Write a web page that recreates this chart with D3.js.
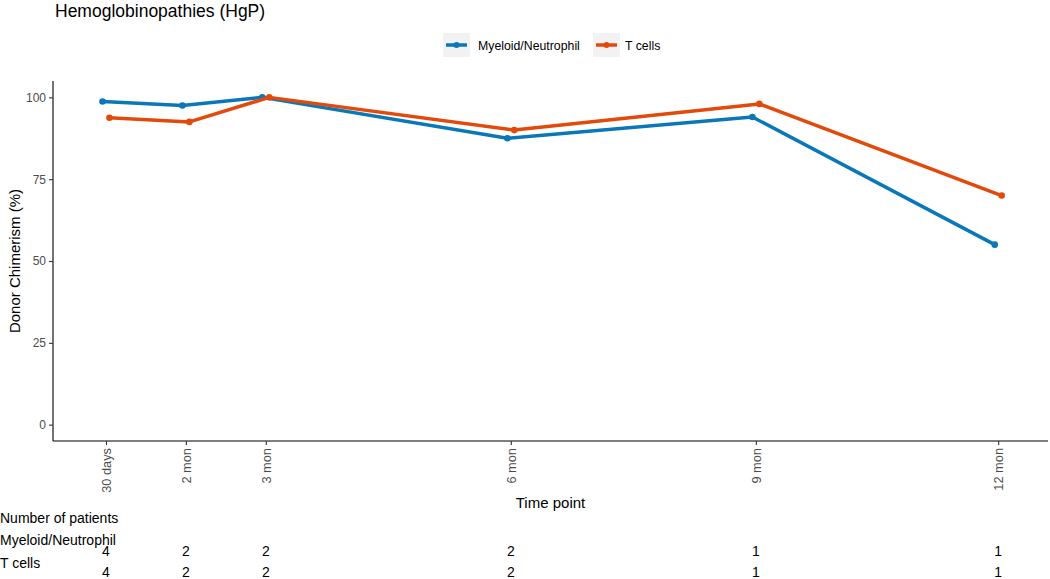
<!DOCTYPE html>
<html>
<head>
<meta charset="utf-8">
<script src="https://cdn.jsdelivr.net/npm/d3@7"></script>
<style>
  html, body { margin: 0; padding: 0; background: #fff; }
  svg { display: block; font-family: "Liberation Sans", Arial, Helvetica, sans-serif; }
</style>
</head>
<body>
<svg id="chart" width="1050" height="579"></svg>
<script>
// ---- data ----
const timeLabels = ["30 days", "2 mon", "3 mon", "6 mon", "9 mon", "12 mon"];
const timeDays   = [30, 60, 90, 182, 274, 365];
const seriesNames = ["Myeloid/Neutrophil", "T cells"];
const myeloidValues = [98.75, 97.5, 100, 87.5, 94, 55];
const tcellValues   = [93.75, 92.5, 100, 90, 98, 70];
const myeloidN = [4, 2, 2, 2, 1, 1];
const tcellN   = [4, 2, 2, 2, 1, 1];
const yTicks = [0, 25, 50, 75, 100];
const colors = ["#0A77B9", "#E24A0C"];

(function () {
const series = [
  { name: seriesNames[0], values: myeloidValues, color: colors[0], dodge: -1.3 },
  { name: seriesNames[1], values: tcellValues,   color: colors[1], dodge: 1.3 }
];

const svg = d3.select("#chart");
const pLeft = 53, pRight = 1048, pTop = 81, pBottom = 441;

const x = d3.scaleLinear().domain([10.1, 383.7]).range([pLeft, pRight]);
const y = d3.scaleLinear().domain([-5, 105]).range([pBottom, pTop]);

// title
svg.append("text").attr("x", 55).attr("y", 17)
  .attr("font-size", 17.5).attr("fill", "#000").text("Hemoglobinopathies (HgP)");

// legend
const legendItems = [
  { name: seriesNames[0], color: colors[0], boxX: 443, textX: 478 },
  { name: seriesNames[1], color: colors[1], boxX: 593, textX: 625 }
];
legendItems.forEach(d => {
  const g = svg.append("g");
  g.append("rect").attr("x", d.boxX).attr("y", 33).attr("width", 27).attr("height", 24).attr("fill", "#F2F2F2");
  g.append("line").attr("x1", d.boxX + 3).attr("x2", d.boxX + 24).attr("y1", 45).attr("y2", 45)
    .attr("stroke", d.color).attr("stroke-width", 3.5);
  g.append("circle").attr("cx", d.boxX + 13.5).attr("cy", 45).attr("r", 3).attr("fill", d.color);
  g.append("text").attr("x", d.textX).attr("y", 49.5).attr("font-size", 12.3).attr("fill", "#000").text(d.name);
});

// y axis
const yAxis = svg.append("g").attr("transform", `translate(${pLeft},0)`)
  .call(d3.axisLeft(y).tickValues(yTicks).tickSize(4).tickPadding(3).tickSizeOuter(0));
yAxis.select(".domain").attr("stroke", "#000").attr("stroke-width", 1.1).attr("d", `M0,${pTop}V${pBottom}`);
yAxis.selectAll(".tick line").attr("stroke", "#333").attr("stroke-width", 1.1);
yAxis.selectAll(".tick text").attr("font-size", 12).attr("fill", "#4D4D4D")
  .attr("font-family", "Liberation Sans, Arial, sans-serif");

// x axis
const xAxis = svg.append("g").attr("transform", `translate(0,${pBottom})`)
  .call(d3.axisBottom(x).tickValues(timeDays).tickFormat((d, i) => timeLabels[i]).tickSize(4).tickSizeOuter(0));
xAxis.select(".domain").attr("stroke", "#000").attr("stroke-width", 1.1).attr("d", `M${pLeft},0H${pRight}`);
xAxis.selectAll(".tick line").attr("stroke", "#333").attr("stroke-width", 1.1);
xAxis.selectAll(".tick text")
  .attr("font-size", 12.8).attr("fill", "#4D4D4D")
  .attr("font-family", "Liberation Sans, Arial, sans-serif")
  .attr("text-anchor", "end")
  .attr("dy", null)
  .attr("transform", "translate(4.8,7) rotate(-90)")
  .attr("x", 0).attr("y", 0);

// axis titles
svg.append("text").attr("x", (pLeft + pRight) / 2).attr("y", 508)
  .attr("text-anchor", "middle").attr("font-size", 15).attr("fill", "#000").text("Time point");
svg.append("text").attr("transform", `translate(20,${(pTop + pBottom) / 2}) rotate(-90)`)
  .attr("text-anchor", "middle").attr("font-size", 15).attr("fill", "#000").text("Donor Chimerism (%)");

// lines and points
const line = d3.line().x(d => x(d.day)).y(d => y(d.v));
series.forEach(s => {
  const pts = s.values.map((v, i) => ({ day: timeDays[i] + s.dodge, v }));
  const g = svg.append("g");
  g.append("path").datum(pts).attr("d", line).attr("fill", "none")
    .attr("stroke", s.color).attr("stroke-width", 3.5).attr("stroke-linejoin", "round");
  g.selectAll("circle").data(pts).join("circle")
    .attr("cx", d => x(d.day)).attr("cy", d => y(d.v)).attr("r", 3.3).attr("fill", s.color);
});

// table of patient numbers
svg.append("text").attr("x", 0).attr("y", 523).attr("font-size", 14).attr("fill", "#000").text("Number of patients");
svg.append("text").attr("x", 0).attr("y", 545).attr("font-size", 14).attr("fill", "#000").text(seriesNames[0]);
svg.append("text").attr("x", 0).attr("y", 568).attr("font-size", 14).attr("fill", "#000").text(seriesNames[1]);
svg.append("g").selectAll("text").data(myeloidN).join("text")
  .attr("x", (d, i) => x(timeDays[i])).attr("y", 556).attr("text-anchor", "middle")
  .attr("font-size", 14).attr("fill", "#000").text(d => d);
svg.append("g").selectAll("text").data(tcellN).join("text")
  .attr("x", (d, i) => x(timeDays[i])).attr("y", 577).attr("text-anchor", "middle")
  .attr("font-size", 14).attr("fill", "#000").text(d => d);
})();
</script>
</body>
</html>
